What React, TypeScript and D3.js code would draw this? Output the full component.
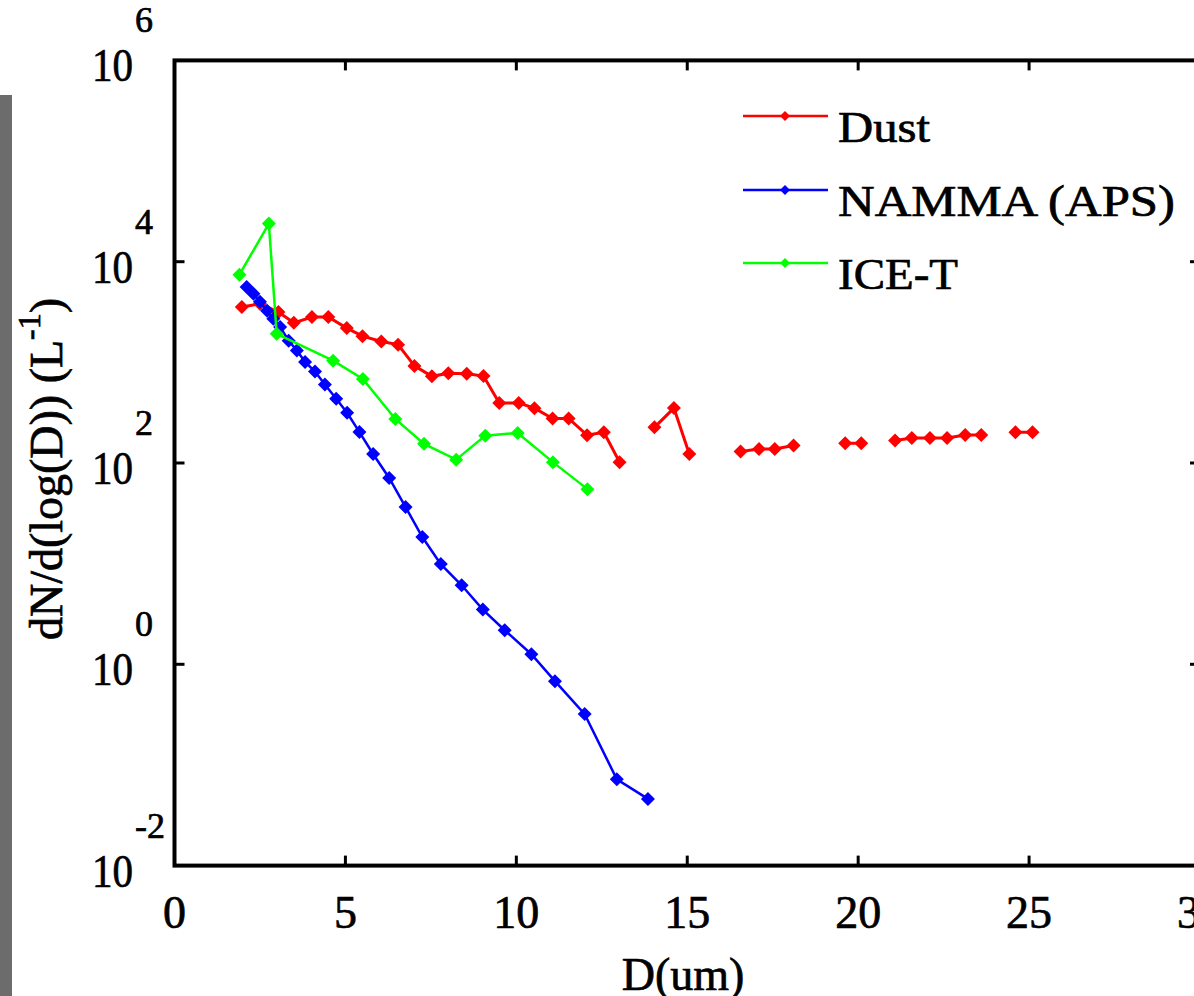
import React, { useEffect, useRef } from "react";
import * as d3 from "d3";

const DUST_D = [1.97, 2.5, 3.04, 3.49, 4.02, 4.5, 5.04, 5.5, 6.05, 6.54, 7.02, 7.53, 8.01, 8.55, 9.04, 9.5, 10.07, 10.53, 11.06, 11.53, 12.07, 12.56, 13.02, 13.5, 14.04, 14.61, 15.06, 15.5, 16.0, 16.56, 17.1, 17.56, 18.11, 18.5, 19.0, 19.62, 20.09, 20.5, 21.08, 21.57, 22.1, 22.6, 23.13, 23.6, 24.0, 24.6, 25.1];
const DUST_N: (number | null)[] = [3540, 3820, 3160, 2470, 2820, 2820, 2190, 1820, 1610, 1500, 922, 726, 778, 769, 730, 395, 395, 350, 277, 277, 189, 202, 102, null, 226, 351, 123, null, null, 130, 138, 138, 149, null, null, 157, 157, null, 167, 177, 177, 177, 190, 190, null, 202, 202];

const NAMMA_D = [2.11, 2.31, 2.5, 2.71, 2.89, 3.09, 3.34, 3.58, 3.82, 4.11, 4.4, 4.73, 5.05, 5.41, 5.81, 6.28, 6.76, 7.25, 7.79, 8.4, 9.02, 9.66, 10.44, 11.13, 12.0, 12.94, 13.85];
const NAMMA_N = [5600, 4800, 4000, 3250, 2710, 2250, 1640, 1310, 1010, 811, 601, 434, 315, 203, 123, 71, 36.5, 18.4, 9.9, 6.1, 3.5, 2.18, 1.26, 0.68, 0.32, 0.072, 0.046];

const ICET_D = [1.9, 2.76, 2.99, 4.64, 5.51, 6.46, 7.3, 8.24, 9.09, 10.04, 11.07, 12.08];
const ICET_N = [7430, 23900, 1920, 1040, 685, 274, 155, 108, 187, 199, 102, 55];

const SERIES_NAMES = ["Dust", "NAMMA (APS)", "ICE-T"];
const SERIES_COLORS = ["#ff0000", "#0000ff", "#00ff00"];
const X_TICKS = [0, 5, 10, 15, 20, 25, 30];
const Y_TICK_EXP = [6, 4, 2, 0, -2];
const X_LABEL = "D(um)";

const W = 1194;
const H = 996;
const FONT = "'Liberation Serif', 'Times New Roman', serif";

export default function App() {
  const ref = useRef<SVGSVGElement>(null);
  useEffect(() => {
    const svg = d3.select(ref.current);
    svg.selectAll("*").remove();

    const x = d3.scaleLinear().domain([0, 30]).range([174.5, 1200]);
    const y = d3.scaleLog().domain([1e-2, 1e6]).range([865.6, 60.4]);

    // grey strip on the left
    svg.append("rect").attr("x", 0).attr("y", 95).attr("width", 12).attr("height", H - 95).attr("fill", "#6c6c6c");

    const series = [
      { d: DUST_D, n: DUST_N },
      { d: NAMMA_D, n: NAMMA_N },
      { d: ICET_D, n: ICET_N },
    ];

    const diamond = (r: number) => `M0,${-r}L${r},0L0,${r}L${-r},0Z`;

    const plot = svg.append("g");
    series.forEach((s, i) => {
      const pts = s.d.map((d, j) => ({ d, n: s.n[j] as number | null }));
      const line = d3
        .line<{ d: number; n: number | null }>()
        .defined((p) => p.n != null)
        .x((p) => x(p.d))
        .y((p) => y(p.n as number));
      plot
        .append("path")
        .attr("d", line(pts))
        .attr("fill", "none")
        .attr("stroke", SERIES_COLORS[i])
        .attr("stroke-width", i === 0 ? 3 : 2.5);
      plot
        .selectAll(null)
        .data(pts.filter((p) => p.n != null))
        .enter()
        .append("path")
        .attr("d", diamond(7))
        .attr("transform", (p) => `translate(${x(p.d)},${y(p.n as number)})`)
        .attr("fill", SERIES_COLORS[i]);
    });

    // axes box
    const ax = svg.append("g").attr("stroke", "#000").attr("fill", "none");
    const x0 = x(0), x1 = x(30), yt = y(1e6), yb = y(1e-2);
    ax.append("rect").attr("x", x0).attr("y", yt).attr("width", x1 - x0).attr("height", yb - yt).attr("stroke-width", 4);
    const tl = 10;
    X_TICKS.slice(1, -1).forEach((t) => {
      ax.append("line").attr("x1", x(t)).attr("x2", x(t)).attr("y1", yb).attr("y2", yb - tl).attr("stroke-width", 3);
      ax.append("line").attr("x1", x(t)).attr("x2", x(t)).attr("y1", yt).attr("y2", yt + tl).attr("stroke-width", 3);
    });
    Y_TICK_EXP.slice(1, -1).forEach((e) => {
      const yy = y(Math.pow(10, e));
      ax.append("line").attr("x1", x0).attr("x2", x0 + tl).attr("y1", yy).attr("y2", yy).attr("stroke-width", 3);
      ax.append("line").attr("x1", x1).attr("x2", x1 - tl).attr("y1", yy).attr("y2", yy).attr("stroke-width", 3);
    });

    // tick labels
    const txt = svg.append("g").attr("font-family", FONT).attr("fill", "#000")
      .attr("stroke", "#000").attr("stroke-width", 0.7);
    X_TICKS.forEach((t) => {
      txt.append("text").attr("x", x(t)).attr("y", 928).attr("text-anchor", "middle").attr("font-size", 46).text(String(t));
    });
    Y_TICK_EXP.forEach((e) => {
      const yy = y(Math.pow(10, e));
      txt.append("text").attr("x", 133).attr("y", yy + 21).attr("text-anchor", "end").attr("font-size", 46)
        .attr("textLength", 41).attr("lengthAdjust", "spacingAndGlyphs").text("10");
      txt.append("text").attr("x", 135).attr("y", yy - 28).attr("text-anchor", "start").attr("font-size", 36).text(String(e));
    });

    // x label
    txt.append("text").attr("x", 683).attr("y", 990).attr("text-anchor", "middle").attr("font-size", 46).text(X_LABEL);

    // y label
    const yl = txt.append("text").attr("transform", "translate(62,469) rotate(-90)").attr("text-anchor", "middle").attr("font-size", 46);
    yl.append("tspan").text("dN/d(log(D)) (L");
    yl.append("tspan").attr("font-size", 32).attr("dy", -22).text("-1");
    yl.append("tspan").attr("dy", 22).text(")");

    // legend
    const legY = [116, 190, 263];
    const legLen = [92, 337, 120];
    SERIES_NAMES.forEach((name, i) => {
      svg.append("line").attr("x1", 743).attr("x2", 828).attr("y1", legY[i]).attr("y2", legY[i])
        .attr("stroke", SERIES_COLORS[i]).attr("stroke-width", 2.5);
      svg.append("path").attr("d", diamond(5)).attr("transform", `translate(785,${legY[i]})`).attr("fill", SERIES_COLORS[i]);
      svg.append("text").attr("x", 838).attr("y", legY[i] + 26).attr("font-family", FONT).attr("font-size", 44)
        .attr("stroke", "#000").attr("stroke-width", 0.7)
        .attr("textLength", legLen[i]).attr("lengthAdjust", "spacingAndGlyphs").text(name);
    });
  }, []);

  return (
    <svg
      ref={ref}
      width={W}
      height={H}
      style={{ position: "absolute", left: 0, top: 0, background: "#fff", display: "block" }}
    />
  );
}
